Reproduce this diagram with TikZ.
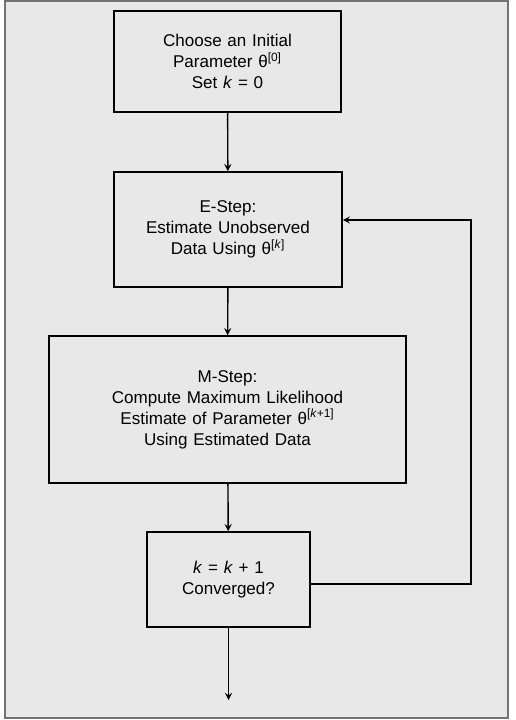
\documentclass[tikz,border=0pt]{standalone}
\usepackage{fontspec}
\setmainfont{Liberation Sans}
\usepackage{tikz}
\usetikzlibrary{arrows,positioning}
\tikzstyle{arrow} = [thick,->,>=stealth]
\tikzstyle{process} = [draw=black, line width=0.9pt, rectangle, minimum height=1cm, text centered, font=\fontsize{9.7}{12}\selectfont]
\begin{document}
\begin{tikzpicture}
		\useasboundingbox (0,0) rectangle (10.3,14.4);
		\coordinate (init) at (4.55,13.17);
		\coordinate (estep) at (4.56,9.81);
		\coordinate (mstep) at (4.55,6.21);
		\coordinate (conv) at (4.57,2.81);
		% Frame
		\draw[draw=black!55, fill=black!9, line width=1.2pt] (0.1,0.04) rectangle (10.16,14.38);
		% Steps
		\begin{scope}[every node/.style={process}]
		\node[name=init, minimum width=4.54cm, minimum height=2.02cm, text width=4.3cm] at (init) {Choose an Initial\\Parameter θ\textsuperscript{[0]}\\Set \textit{k} = 0};
		\node[name=estep, minimum width=4.56cm, minimum height=2.3cm, text width=4.3cm] at (estep) {E-Step:\\Estimate Unobserved\\Data Using θ\textsuperscript{[\textit{k}]}};
		\node[name=mstep, minimum width=7.14cm, minimum height=2.94cm, text width=6.8cm] at (mstep) {M-Step:\\Compute Maximum Likelihood\\Estimate of Parameter θ\textsuperscript{[\textit{k}+1]}\\Using Estimated Data};
		\node[name=conv, minimum width=3.26cm, minimum height=1.9cm, text width=3cm] at (conv) {\textit{k} = \textit{k} + 1\\Converged?};
		\end{scope}
		\coordinate (loop) at (9.42,4);
		\coordinate (stop) at (4.57,0.4);
		\draw [arrow] (init)--(estep);
		\draw [arrow] (estep)--(mstep);
		\draw [arrow] (mstep)--(conv);
		\draw [arrow] (conv)--(stop);
		% Back to the E-step
		\draw [arrow] ([yshift=-0.09cm]conv.east) -| (loop) |- ([yshift=0.19cm]estep.east);
\end{tikzpicture}
\end{document}
